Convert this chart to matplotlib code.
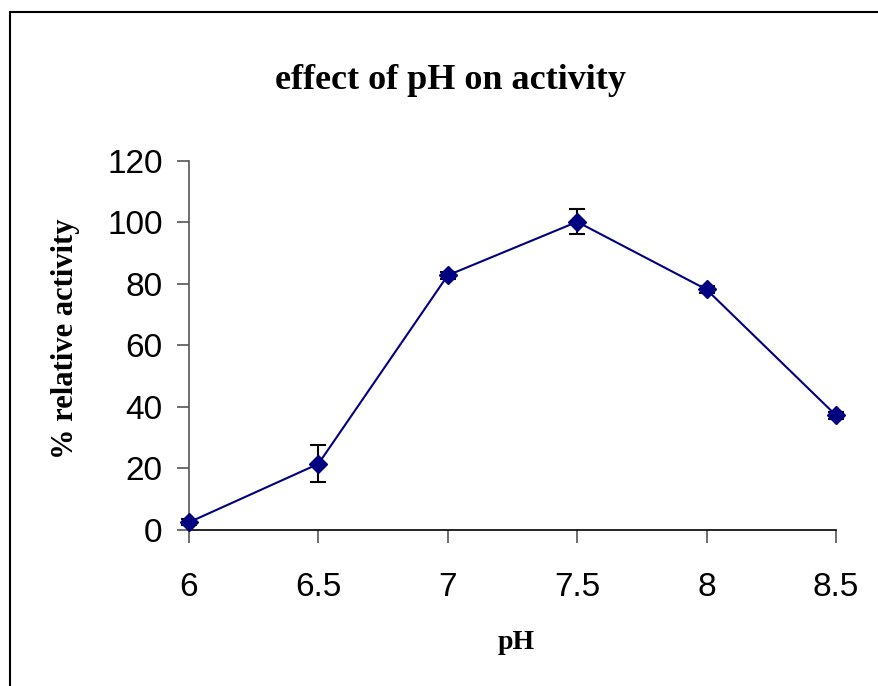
import matplotlib.pyplot as plt
from matplotlib.patches import Rectangle

# pH 에 따른 상대 활성도
ph = [6, 6.5, 7, 7.5, 8, 8.5]
activity = [2.5, 21.5, 82.8, 100.2, 78.2, 37.3]
err = [1.0, 6.0, 1.2, 4.1, 1.2, 1.2]
xlabels = ['6', '6.5', '7', '7.5', '8', '8.5']
yticks = [0, 20, 40, 60, 80, 100, 120]

fig = plt.figure(figsize=(8.79, 6.86), dpi=100)
ax = fig.add_axes([0.215, 0.2274, 0.736, 0.538])

ax.errorbar(ph, activity, yerr=err, color='#000080', ecolor='black',
            elinewidth=1.5, capsize=6, capthick=1.5, lw=1.5,
            marker='D', markersize=9, zorder=3, clip_on=False)

ax.set_xlim(6, 8.5)
ax.set_ylim(0, 120)
ax.set_xticks(ph)
ax.set_xticklabels(xlabels)
ax.set_yticks(yticks)

ax.spines['top'].set_visible(False)
ax.spines['right'].set_visible(False)
ax.spines['left'].set_color('#555555')
ax.spines['bottom'].set_color('black')
for s in ('left', 'bottom'):
    ax.spines[s].set_linewidth(1.2)
ax.tick_params(axis='both', labelsize=24, length=9, width=1.2, color='#555555')
ax.tick_params(axis='x', pad=21)
ax.tick_params(axis='y', pad=10)
for lab in ax.get_xticklabels() + ax.get_yticklabels():
    lab.set_family('Liberation Sans')

# 축 제목, 그래프 제목
fig.text(0.587, 0.054, 'pH', ha='center', va='baseline',
         fontsize=20, fontweight='bold', family='Liberation Serif')
fig.text(0.075, 0.506, '% relative activity', ha='center', va='center', rotation=90,
         fontsize=22, fontweight='bold', family='Liberation Serif')
fig.text(0.512, 0.870, 'effect of pH on activity', ha='center', va='baseline',
         fontsize=26, fontweight='bold', family='Liberation Serif')

# 바깥 테두리
fig.patches.append(Rectangle((10 / 879, -0.1), 1.2, 1 - 12 / 686 + 0.1,
                             transform=fig.transFigure, fill=False, lw=1.5, ec='black'))

fig.savefig('out.png', dpi=100)
